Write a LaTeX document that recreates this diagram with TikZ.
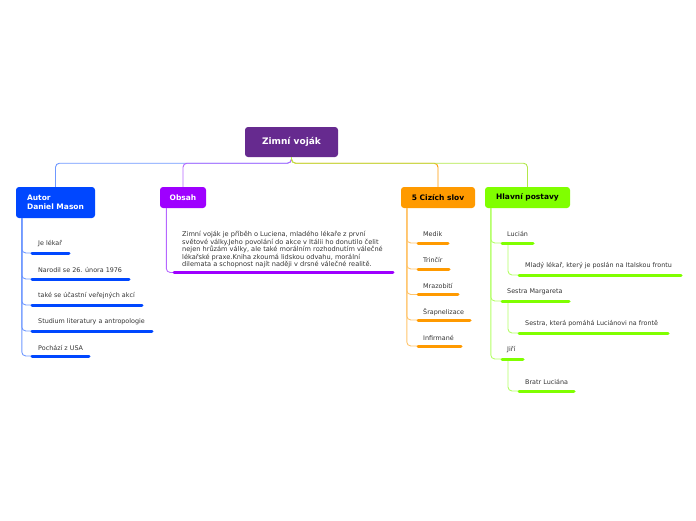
\documentclass[tikz,border=0pt]{standalone}
\usepackage{fontspec}
\setmainfont{DejaVu Sans}
\usepackage{tikz}

\definecolor{rootpurple}{HTML}{662A8F}
\definecolor{autorblue}{HTML}{0047FF}
\definecolor{autorline}{HTML}{6F98FF}
\definecolor{obsahpurple}{HTML}{9E00FF}
\definecolor{obsahline}{HTML}{B566FF}
\definecolor{slovorange}{HTML}{FF9A00}
\definecolor{slovline}{HTML}{FFC46B}
\definecolor{postgreen}{HTML}{80FF00}
\definecolor{postline}{HTML}{B3FF66}
\definecolor{posttop}{HTML}{B2E84A}
\definecolor{leaftext}{HTML}{333333}

\begin{document}
\begin{tikzpicture}[x=1pt,y=-1pt,
    topic/.style={rounded corners=3pt, inner sep=0pt, minimum height=21,
        font=\bfseries\fontsize{7.5}{9.5}\selectfont},
    leaf/.style={anchor=west, inner sep=0pt, text=leaftext,
        font=\fontsize{6.4}{7.6}\selectfont},
    bar/.style={line width=3pt, line cap=round},
    branch/.style={line width=0.9pt, rounded corners=4pt}]
    \useasboundingbox (0,0) rectangle (696,520);
    % main topics
    \node[topic, fill=rootpurple, text=white, minimum width=93, minimum height=30,
        font=\bfseries\fontsize{9}{11}\selectfont] (root) at (291.5,142) {Zimní voják};
    \node[topic, fill=autorblue, text=white, minimum width=79, minimum height=31,
        align=left] (autor) at (55.5,202.5) {Autor\\Daniel Mason};
    \node[topic, fill=obsahpurple, text=white, minimum width=46] (obsah) at (183,197.5) {Obsah};
    \node[topic, fill=slovorange, text=black, minimum width=74] (slova) at (438,197.5) {5 Cizích slov};
    \node[topic, fill=postgreen, text=black, minimum width=85] (postavy) at (527.5,197.5) {Hlavní postavy};
    \draw[branch, autorline] (root.south) -- ++(0,6) -| (autor.north);
    \draw[branch, obsahline] (root.south) -- ++(0,6) -| (obsah.north);
    \draw[branch, slovorange] (root.south) -- ++(0,6) -| (slova.north);
    \draw[branch, posttop] (root.south) -- ++(0,6) -| (postavy.north);
    % Autor
    \coordinate (A1) at (32,253);
    \coordinate (A2) at (32,279);
    \coordinate (A3) at (32,305);
    \coordinate (A4) at (32,331);
    \coordinate (A5) at (32,356);
    \draw[branch, autorline] ([xshift=6]autor.south west) |- (A1);
    \draw[branch, autorline] ([xshift=6]autor.south west) |- (A2);
    \draw[branch, autorline] ([xshift=6]autor.south west) |- (A3);
    \draw[branch, autorline] ([xshift=6]autor.south west) |- (A4);
    \draw[branch, autorline] ([xshift=6]autor.south west) |- (A5);
    \draw[bar, autorblue] (A1) -- ++(37,0);
    \draw[bar, autorblue] (A2) -- ++(97,0);
    \draw[bar, autorblue] (A3) -- ++(110,0);
    \draw[bar, autorblue] (A4) -- ++(120,0);
    \draw[bar, autorblue] (A5) -- ++(57,0);
    \node[leaf] (lekar) at (38,244) {Je lékař};
    \node[leaf] (narodil) at (38,270) {Narodil se 26. února 1976};
    \node[leaf] (akce) at (38,296) {také se účastní veřejných akcí};
    \node[leaf] (studium) at (38,322) {Studium literatury a antropologie};
    \node[leaf] (usa) at (38,348) {Pochází z USA};
    % Obsah
    \coordinate (O1) at (174,272.5);
    \draw[branch, obsahline] ([xshift=6.5]obsah.south west) |- (O1);
    \draw[bar, obsahpurple] (O1) -- (393,272.5);
    \node[leaf, anchor=north west, align=left,
        font=\fontsize{6.6}{7.6}\selectfont] (text) at (182,231)
        {Zimní voják je příběh o Luciena, mladého lékaře z první\\
         světové války.Jeho povolání do akce v Itálii ho donutilo čelit\\
         nejen hrůzám války, ale také morálním rozhodnutím válečné\\
         lékařské praxe.Kniha zkoumá lidskou odvahu, morální\\
         dilemata a schopnost najít naději v drsné válečné realitě.};
    % 5 Cizich slov
    \coordinate (S1) at (418,243);
    \coordinate (S2) at (418,269);
    \coordinate (S3) at (418,294.5);
    \coordinate (S4) at (418,320);
    \coordinate (S5) at (418,346);
    \draw[branch, slovline] ([xshift=6]slova.south west) |- (S1);
    \draw[branch, slovline] ([xshift=6]slova.south west) |- (S2);
    \draw[branch, slovline] ([xshift=6]slova.south west) |- (S3);
    \draw[branch, slovline] ([xshift=6]slova.south west) |- (S4);
    \draw[branch, slovline] ([xshift=6]slova.south west) |- (S5);
    \draw[bar, slovorange] (S1) -- ++(30,0);
    \draw[bar, slovorange] (S2) -- ++(31,0);
    \draw[bar, slovorange] (S3) -- ++(40,0);
    \draw[bar, slovorange] (S4) -- ++(52,0);
    \draw[bar, slovorange] (S5) -- ++(43,0);
    \node[leaf] (medik) at (423,234.5) {Medik};
    \node[leaf] (trincir) at (423,260) {Trinčír};
    \node[leaf] (mrazobiti) at (423,286) {Mrazobití};
    \node[leaf] (srapnel) at (423,312) {Šrapnelizace};
    \node[leaf] (infirmane) at (423,338) {Infirmané};
    % Hlavni postavy
    \coordinate (P1) at (502,243);
    \coordinate (P2) at (502,301);
    \coordinate (P3) at (502,359);
    \coordinate (P1a) at (519,275);
    \coordinate (P2a) at (519,333);
    \coordinate (P3a) at (519,391);
    \draw[branch, postline] ([xshift=6]postavy.south west) |- (P1);
    \draw[branch, postline] ([xshift=6]postavy.south west) |- (P2);
    \draw[branch, postline] ([xshift=6]postavy.south west) |- (P3);
    \draw[branch, postline] ([xshift=6]P1) |- (P1a);
    \draw[branch, postline] ([xshift=6]P2) |- (P2a);
    \draw[branch, postline] ([xshift=6]P3) |- (P3a);
    \draw[bar, postgreen] (P1) -- ++(31,0);
    \draw[bar, postgreen] (P2) -- ++(67,0);
    \draw[bar, postgreen] (P3) -- ++(21,0);
    \draw[bar, postgreen] (P1a) -- (681,275);
    \draw[bar, postgreen] (P2a) -- (668,333);
    \draw[bar, postgreen] (P3a) -- (574,391);
    \node[leaf] (lucian) at (507,234) {Lucián};
    \node[leaf] (margareta) at (507,292) {Sestra Margareta};
    \node[leaf] (jiri) at (507,350) {Jiří};
    \node[leaf] (lekarfront) at (525,266) {Mladý lékař, který je poslán na Italskou frontu};
    \node[leaf] (sestra) at (525,324) {Sestra, která pomáhá Luciánovi na frontě};
    \node[leaf] (bratr) at (525,382) {Bratr Luciána};
\end{tikzpicture}
\end{document}
